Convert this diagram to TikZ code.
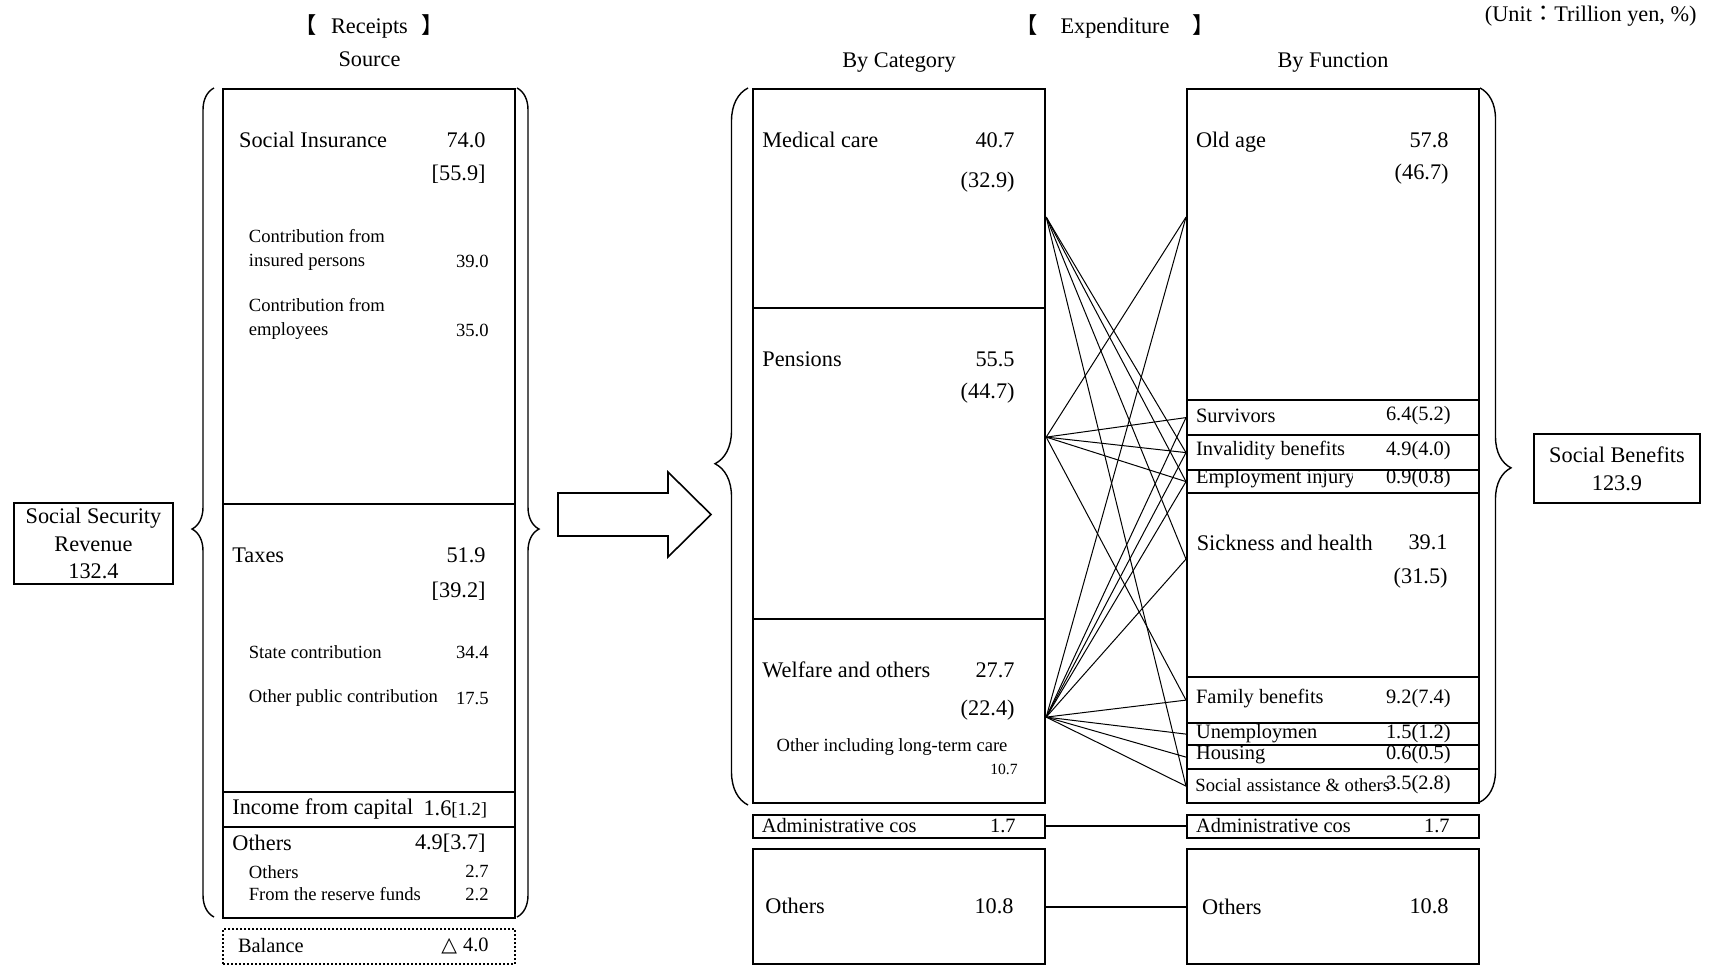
\documentclass[tikz,border=0pt]{standalone}
\usepackage{fontspec}
\setmainfont{Liberation Serif}
\newfontfamily\cjk{Noto Sans CJK JP}
\newfontfamily\symf{DejaVu Sans}
\usetikzlibrary{decorations.pathreplacing}

\newcommand\fbig{\fontsize{11.15pt}{13.9pt}\selectfont}
\newcommand\fmid{\fontsize{10.2pt}{12pt}\selectfont}
\newcommand\fsml{\fontsize{9.3pt}{12pt}\selectfont}
\newcommand\ftny{\fontsize{7.8pt}{9pt}\selectfont}

\begin{document}
\begin{tikzpicture}[x=0.5pt, y=-0.5pt, font=\fbig,
    cell/.style={draw, line width=1.1pt, inner sep=0pt, anchor=north west, minimum width=146pt},
    lbl/.style={inner sep=0pt, anchor=west},
    val/.style={inner sep=0pt, anchor=east},
    link/.style={line width=0.5pt},
    curly/.style={decorate, line width=0.7pt}]
    \useasboundingbox (0,0) rectangle (1709,965);

    % Headers
    \node (hrec) at (369.5,26) {{\cjk 【}\hspace{7pt}Receipts\hspace{7pt}{\cjk 】}};
    \node (hsrc) at (369.5,59) {Source};
    \node (hexp) at (1115,26) {{\cjk 【}\hspace{11.5pt}Expenditure\hspace{11.5pt}{\cjk 】}};
    \node (hcat) at (899,62.5) {By Category};
    \node (hfun) at (1333,62.5) {By Function};
    \node[anchor=east, inner sep=0pt] (unit) at (1697,16) {(Unit{\cjk ：}Trillion yen, \%)};

    % Receipts column
    \node[cell, minimum height=207.25pt] (rsi) at (222,88) {};
    \node[cell, minimum height=144pt] (rtax) at (222,502.5) {};
    \node[cell, minimum height=17.5pt] (rcap) at (222,790.5) {};
    \node[cell, minimum height=45.75pt] (roth) at (222,825.5) {};
    \node[cell, minimum height=17.5pt, line width=1pt, densely dotted] (rbal) at (222,928) {};

    \node[lbl] (tsi) at (238.7,140) {Social Insurance};
    \node[val] (vsi) at (486,140) {74.0};
    \node[val] (psi) at (486,174) {[55.9]};
    \node[lbl, font=\fsml, align=left] (tins) at (248.5,250) {Contribution from\\insured persons};
    \node[val, font=\fsml] (vins) at (489,261) {39.0};
    \node[lbl, font=\fsml, align=left] (temp2) at (248.5,319.3) {Contribution from\\employees};
    \node[val, font=\fsml] (vemp2) at (489,330) {35.0};
    \node[lbl] (ttax) at (232,555) {Taxes};
    \node[val] (vtax) at (486,555) {51.9};
    \node[val] (ptax) at (486,591.7) {[39.2]};
    \node[lbl, font=\fsml] (tsta) at (248.5,652.3) {State contribution};
    \node[val, font=\fsml] (vsta) at (489,652.3) {34.4};
    \node[lbl, font=\fsml] (topc) at (248.5,698) {Other public contribution};
    \node[val, font=\fsml] (vopc) at (489,698) {17.5};
    \node[lbl] (tcap) at (232,809) {Income from capital};
    \node[val] (vcap) at (487.5,809) {1.6{\fsml[1.2]}};
    \node[lbl] (troth) at (232,843) {Others};
    \node[val] (vroth) at (486,843) {4.9[3.7]};
    \node[lbl, font=\fsml] (tro2) at (248.5,871.7) {Others};
    \node[val, font=\fsml] (vro2) at (489,871.7) {2.7};
    \node[lbl, font=\fsml] (tres) at (248.5,894) {From the reserve funds};
    \node[val, font=\fsml] (vres) at (489,894) {2.2};
    \node[lbl, font=\fmid] (tbal) at (237.6,946) {Balance};
    \node[val, font=\fmid] (vbal) at (489,946) {{\symf △}\hspace{3pt}4.0};

    % Totals
    \node[draw, line width=1.1pt, minimum width=79.5pt, minimum height=40.5pt, inner sep=0pt, align=center] (ssr) at (93.5,543.5) {Social Security\\Revenue\\132.4};
    \node[draw, line width=1.1pt, minimum width=83pt, minimum height=34.5pt, inner sep=0pt, align=center] (sben) at (1617,468.5) {Social Benefits\\123.9};

    % Braces
    \draw[curly, decoration={brace, amplitude=11pt, aspect=0.468}] (214,917) -- (214,88);
    \draw[curly, decoration={brace, amplitude=11pt, aspect=0.532}] (517,88) -- (517,917);
    \draw[curly, decoration={brace, amplitude=16.5pt, aspect=0.476}] (748,805) -- (748,88);
    \draw[curly, decoration={brace, amplitude=15.5pt, aspect=0.532}] (1480,88) -- (1480,802);

    % Block arrow
    \draw[line width=0.8pt] (558,493) -- (668,493) -- (668,472) -- (711,514.5) -- (668,557) -- (668,536) -- (558,536) -- cycle;

    % By category
    \node[cell, minimum height=109.5pt] (cmed) at (752,88) {};
    \node[cell, minimum height=155.5pt] (cpen) at (752,307) {};
    \node[cell, minimum height=92pt] (cwel) at (752,618) {};
    \node[cell, minimum height=11.25pt] (cadm) at (752,814) {};
    \node[cell, minimum height=57.5pt] (coth) at (752,848) {};

    \node[lbl] (tmed) at (762,140) {Medical care};
    \node[val] (vmed) at (1015,140) {40.7};
    \node[val] (pmed) at (1015,181.7) {(32.9)};
    \node[lbl] (tpen) at (762,359.5) {Pensions};
    \node[val] (vpen) at (1015,359.5) {55.5};
    \node[val] (ppen) at (1015,393) {(44.7)};
    \node[lbl] (twel) at (762,670) {Welfare and others};
    \node[val] (vwel) at (1015,670) {27.7};
    \node[val] (pwel) at (1015,710) {(22.4)};
    \node[font=\fsml, inner sep=0pt] (tltc) at (892,746.7) {Other including long-term care};
    \node[val, font=\ftny] (vltc) at (1018,769) {10.7};
    \node[lbl, font=\fmid] (tcadm) at (761.4,826) {Administrative cos};
    \node[val, font=\fmid] (vcadm) at (1016,826) {1.7};
    \node[lbl] (tcoth) at (765,906) {Others};
    \node[val] (vcoth) at (1014,906) {10.8};

    % By function
    \node[cell, minimum height=155.5pt] (fold) at (1186,88) {};
    \node[cell, minimum height=17.5pt] (fsur) at (1186,399) {};
    \node[cell, minimum height=17.5pt] (finv) at (1186,434) {};
    \node[cell, minimum height=11.5pt] (femp) at (1186,469) {};
    \node[cell, minimum height=92pt] (fsic) at (1186,492) {};
    \node[cell, minimum height=23pt] (ffam) at (1186,676) {};
    \node[cell, minimum height=11pt] (fune) at (1186,722) {};
    \node[cell, minimum height=12pt] (fhou) at (1186,744) {};
    \node[cell, minimum height=17pt] (fsoc) at (1186,768) {};
    \node[cell, minimum height=11.25pt] (fadm) at (1186,814) {};
    \node[cell, minimum height=57.5pt] (foth) at (1186,848) {};

    \node[lbl] (told) at (1195.7,142.5) {Old age};
    \node[val] (vold) at (1449,140) {57.8};
    \node[val] (pold) at (1449,174) {(46.7)};
    \node[lbl, font=\fmid] (tsur) at (1195.7,416) {Survivors};
    \node[val, font=\fmid] (vsur) at (1451,416) {6.4(5.2)};
    \node[lbl, font=\fmid] (tinv) at (1195.7,450.7) {Invalidity benefits};
    \node[val, font=\fmid] (vinv) at (1451,450.7) {4.9(4.0)};
    \begin{scope}
        \clip (1186,469) rectangle (1352,492);
        \node[lbl, font=\fmid] (temp) at (1195.7,478.3) {Employment injury};
    \end{scope}
    \node[val, font=\fmid] (vemp) at (1451,478.3) {0.9(0.8)};
    \node[lbl] (tsic) at (1196.4,542.7) {Sickness and health};
    \node[val] (vsic) at (1448,542.7) {39.1};
    \node[val] (psic) at (1448,578) {(31.5)};
    \node[lbl, font=\fmid] (tfam) at (1195.7,698.3) {Family benefits};
    \node[val, font=\fmid] (vfam) at (1451,698.3) {9.2(7.4)};
    \node[lbl, font=\fmid] (tune) at (1195.7,733.3) {Unemploymen};
    \node[val, font=\fmid] (vune) at (1451,733.3) {1.5(1.2)};
    \node[lbl, font=\fmid] (thou) at (1195.7,755) {Housing};
    \node[val, font=\fmid] (vhou) at (1451,755) {0.6(0.5)};
    \node[lbl, font=\fsml] (tsoc) at (1195,785) {Social assistance \& others};
    \node[val, font=\fmid] (vsoc) at (1451,785) {3.5(2.8)};
    \node[lbl, font=\fmid] (tfadm) at (1195.7,826) {Administrative cos};
    \node[val, font=\fmid] (vfadm) at (1450,826) {1.7};
    \node[lbl] (tfoth) at (1201.8,906.7) {Others};
    \node[val] (vfoth) at (1449,906.7) {10.8};

    % Link ends
    \coordinate (med) at ([yshift=-9.25pt]cmed.east);
    \coordinate (pen) at ([yshift=13.25pt]cpen.east);
    \coordinate (wel) at ([yshift=-3pt]cwel.east);
    \coordinate (old) at ([yshift=13.75pt]fold.west);
    \coordinate (sic) at ([yshift=13pt]fsic.west);

    % Links category -> function
    \foreach \t in {finv.west, femp.west, sic, fsoc.west}
        \draw[link] (med) -- (\t);
    \foreach \t in {old, fsur.west, finv.west, femp.west, ffam.west}
        \draw[link] (pen) -- (\t);
    \foreach \t in {old, fsur.west, finv.west, femp.west, sic, ffam.west, fune.west, fhou.west, fsoc.west}
        \draw[link] (wel) -- (\t);
    \draw[line width=1.1pt] (cadm.east) -- (fadm.west);
    \draw[line width=1.1pt] (coth.east) -- (foth.west);
\end{tikzpicture}
\end{document}
